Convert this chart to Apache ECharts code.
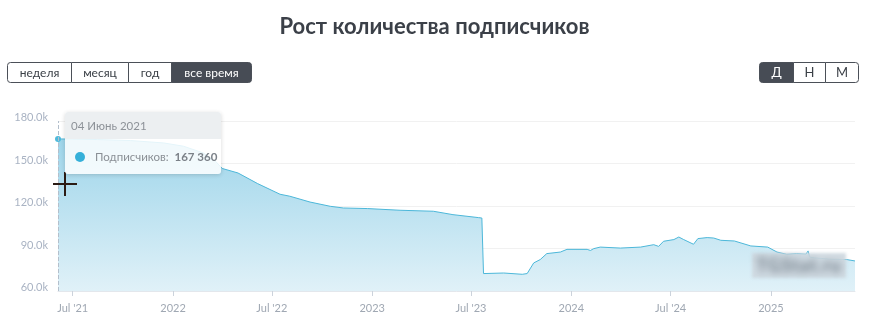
<!DOCTYPE html>
<html><head><meta charset="utf-8">
<script src="https://cdn.jsdelivr.net/npm/echarts@6/dist/echarts.min.js"></script>
<style>
html,body{margin:0;padding:0;background:#fff}
#wrap{position:relative;width:869px;height:334px}
#c{width:869px;height:334px}
#wm{position:absolute;left:752px;top:253px;width:94px;height:25px;background:rgba(206,216,224,0.92);filter:blur(1.5px);
  font-family:Lato,sans-serif;font-weight:bold;font-size:18px;line-height:25px;color:#6c7882;text-align:center;letter-spacing:1px;z-index:5}
#wm span{filter:blur(3.5px);display:inline-block}
</style>
</head><body><div id="wrap"><div id="c"></div><div id="wm"><span>TGStat.ru</span></div></div>
<script>
const titleText = 'Рост количества подписчиков';
const seriesName = 'Подписчиков';
const periodButtons = ['неделя', 'месяц', 'год', 'все время'];
const scaleButtons = ['Д', 'Н', 'М'];
const monthNames = ['Январь','Февраль','Март','Апрель','Май','Июнь','Июль','Август','Сентябрь','Октябрь','Ноябрь','Декабрь'];

const dates = [
  '2021-06-04','2021-08-15','2021-10-15','2021-12-15','2022-01-20','2022-02-25','2022-03-20','2022-04-01',
  '2022-04-30','2022-06-05','2022-07-16','2022-08-03','2022-09-09','2022-10-16','2022-11-09','2022-12-23',
  '2023-02-21','2023-04-23','2023-05-29','2023-07-15','2023-07-21','2023-07-24','2023-08-30','2023-10-03',
  '2023-10-12','2023-10-24','2023-11-05','2023-11-17','2023-12-12','2023-12-24','2024-01-30','2024-02-05',
  '2024-02-11','2024-02-23','2024-03-31','2024-05-07','2024-05-31','2024-06-09','2024-06-18','2024-07-07',
  '2024-07-16','2024-07-25','2024-08-12','2024-08-20','2024-09-06','2024-09-18','2024-10-01','2024-10-26',
  '2024-11-07','2024-11-25','2024-12-26','2025-01-12','2025-01-30','2025-02-17','2025-03-06','2025-03-10',
  '2025-03-13','2025-03-19','2025-04-19','2025-05-20','2025-06-04'
];
const subscribers = [
  167360,166900,166200,164500,162200,157500,151500,146500,
  143300,135800,128300,126900,122800,119800,118600,118200,
  117000,116300,113900,111800,111500,72300,72700,71800,
  72300,79800,82200,86400,87500,89400,89400,88600,
  89900,91000,90300,91000,92700,91500,95100,96300,
  98100,96300,93000,97000,97700,97400,95800,95300,
  93900,91800,91000,87500,85900,86400,86000,88300,
  84000,83500,82500,82200,81200
];

const tickDates = ['2021-07-01','2022-01-01','2022-07-01','2023-01-01','2023-07-01','2024-01-01','2024-07-01','2025-01-01'];
const tickLabels = ["Jul '21", '2022', "Jul '22", '2023', "Jul '23", '2024', "Jul '24", '2025'];
const yMin = 60000, yMax = 180000, yStep = 30000;

const ts = s => { const p = s.split('-').map(Number); return Date.UTC(p[0], p[1]-1, p[2]); };
const tickTs = tickDates.map(ts);
const seriesData = dates.map((d, i) => [ts(d), subscribers[i]]);
const fmtNum = n => String(n).replace(/\B(?=(\d{3})+(?!\d))/g, ' ');
const fmtDate = t => { const d = new Date(t); return String(d.getUTCDate()).padStart(2,'0') + ' ' + monthNames[d.getUTCMonth()] + ' ' + d.getUTCFullYear(); };

function buttonGroup(labels, edges, activeIdx, y, h, fontSize) {
  const els = [];
  for (let i = 0; i < labels.length; i++) {
    const x = edges[i], w = edges[i+1] - edges[i];
    const first = i === 0, last = i === labels.length - 1;
    const r = [first ? 3 : 0, last ? 3 : 0, last ? 3 : 0, first ? 3 : 0];
    const active = i === activeIdx;
    els.push({ type: 'rect', z: 100, shape: { x: x + 0.5, y: y + 0.5, width: w, height: h, r: r },
      style: { fill: active ? '#474c55' : '#fff', stroke: '#4b5058', lineWidth: 1 } });
    els.push({ type: 'text', z: 101, x: x + w / 2 + 0.5, y: y + h / 2 + 1,
      style: { text: labels[i], fill: active ? '#fff' : '#3b4047', fontFamily: 'Lato', fontSize: fontSize,
        align: 'center', verticalAlign: 'middle', textAlign: 'center', textVerticalAlign: 'middle' } });
  }
  return els;
}

const chart = echarts.init(document.getElementById('c'));
chart.setOption({
  animation: false,
  title: { text: titleText, left: 'center', top: 11,
    textStyle: { fontFamily: 'Lato', fontWeight: 'bold', fontSize: 22, color: '#3b4048' } },
  grid: { left: 58, right: 14, top: 121, bottom: 43 },
  xAxis: {
    type: 'value', min: ts(dates[0]), max: ts(dates[dates.length-1]),
    axisLine: { lineStyle: { color: '#e3e7ec' } },
    axisTick: { show: true, customValues: tickTs, length: 5, lineStyle: { color: '#ccd3dc' } },
    axisLabel: { customValues: tickTs, color: '#a0a8b3', fontFamily: 'Lato', fontSize: 11, margin: 12,
      formatter: v => { let best = 0; tickTs.forEach((t, i) => { if (Math.abs(t - v) < Math.abs(tickTs[best] - v)) best = i; }); return tickLabels[best]; } },
    splitLine: { show: false }
  },
  yAxis: {
    type: 'value', min: yMin, max: yMax, interval: yStep,
    axisLine: { show: false }, axisTick: { show: false },
    axisLabel: { color: '#a9b3c3', fontFamily: 'Lato', fontSize: 11, margin: 10, verticalAlign: 'bottom', lineHeight: 7,
      formatter: v => (v / 1000).toFixed(1) + 'k' },
    splitLine: { lineStyle: { color: '#f1f1f1' } }
  },
  tooltip: {
    trigger: 'axis', alwaysShowContent: true, transitionDuration: 0, showDelay: 0,
    padding: 0, borderWidth: 0, backgroundColor: 'rgba(255,255,255,0.85)',
    extraCssText: 'box-shadow:0 1px 4px rgba(0,0,0,0.16);border-radius:3px;overflow:hidden;',
    position: () => [65, 112],
    axisPointer: { type: 'line', label: { show: false }, lineStyle: { color: '#b3bfcc', type: 'dashed', width: 1 } },
    formatter: params => {
      const p = params[0];
      return '<div style="width:156px;font-family:Lato,sans-serif;font-size:11.5px;">' +
        '<div style="height:27px;line-height:27px;padding-left:6px;background:rgba(235,238,240,0.96);color:#8d9298;">' + fmtDate(p.value[0]) + '</div>' +
        '<div style="height:35px;line-height:35px;padding-left:10px;color:#8a8f95;">' +
        '<span style="display:inline-block;width:10px;height:10px;border-radius:5px;background:#36b0d9;vertical-align:-1px;margin-right:10px;"></span>' +
        seriesName + ':&nbsp; <b style="color:#7b8188;">' + fmtNum(p.value[1]) + '</b></div></div>';
    }
  },
  series: [{
    name: seriesName, type: 'line', data: seriesData, showSymbol: false, symbol: 'circle', symbolSize: 4,
    emphasis: { disabled: true },
    itemStyle: { color: '#4fbadb' },
    lineStyle: { color: '#4cb7d9', width: 1 },
    areaStyle: { opacity: 1, color: new echarts.graphic.LinearGradient(0, 0, 0, 1, [
      { offset: 0, color: '#9ed5ea' }, { offset: 1, color: '#e0f1f8' }]) }
  }],
  graphic: [
    ...buttonGroup(periodButtons, [7, 71, 128, 171, 251], 3, 62, 20, 12),
    ...buttonGroup(scaleButtons, [759, 793, 825, 858], 0, 62, 20, 13),
    { type: 'line', z: 200, shape: { x1: 53, y1: 184, x2: 77, y2: 184 }, style: { stroke: '#2b1b14', lineWidth: 2 } },
    { type: 'line', z: 200, shape: { x1: 65, y1: 172, x2: 65, y2: 196 }, style: { stroke: '#2b1b14', lineWidth: 2 } }
  ]
});
chart.dispatchAction({ type: 'showTip', seriesIndex: 0, dataIndex: 0 });
</script></body></html>
